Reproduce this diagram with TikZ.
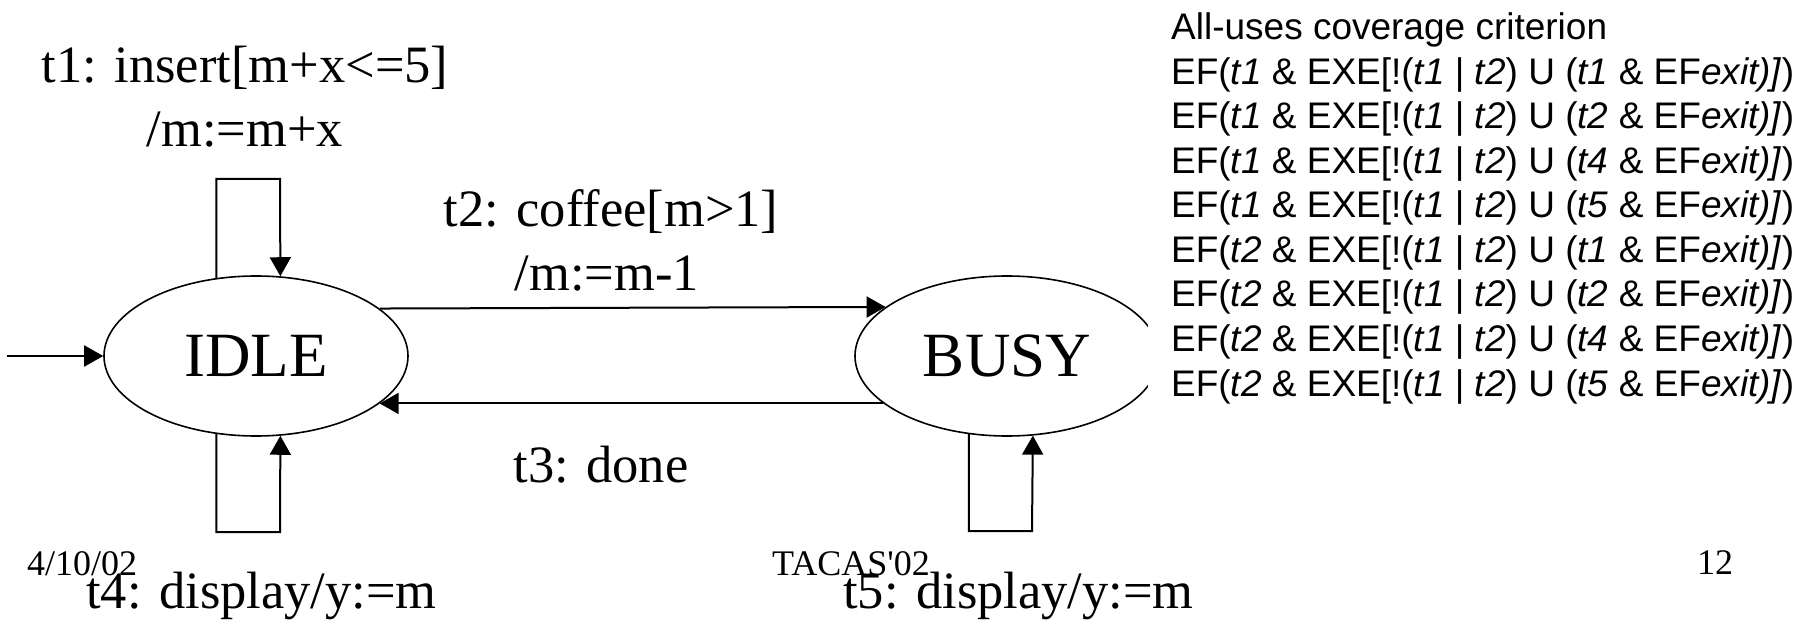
\documentclass[tikz,border=0pt]{standalone}
\usepackage{fontspec}
\setmainfont{Liberation Serif}[Ligatures={CommonOff}]
\newfontfamily\arialf{Liberation Sans}
\usetikzlibrary{arrows.meta,shapes.geometric}
\begin{document}
\begin{tikzpicture}[x=1pt,y=-1pt,
  state/.style={ellipse, draw, line width=1.6pt, minimum width=304pt, minimum height=160pt, inner sep=0pt, font=\fontsize{63}{63}\selectfont},
  edge/.style={line width=2pt, -{Triangle[length=19pt,width=21pt]}},
  lbl/.style={anchor=base, inner sep=0pt, font=\fontsize{52.5}{60}\selectfont},
  foot/.style={anchor=base west, inner sep=0pt, font=\fontsize{36}{40}\selectfont},
  crit/.style={anchor=base west, inner sep=0pt, font=\arialf\fontsize{37}{44}\selectfont}]
\useasboundingbox (0,0) rectangle (1802,620);

% states
\node[state] (IDLE) at (256,356) {IDLE};
\node[state] (BUSY) at (1007,356) {BUSY};

% loop corner coordinates
\coordinate (init) at (7,356);
\coordinate (l1b) at (280,179);
\coordinate (l4b) at (280,532);
\coordinate (l5b) at (1032,531);

% connectors
\draw[edge] (init) -- (IDLE.west);
\draw[edge] (IDLE.21.6) -- (BUSY.158.4);
\draw[edge] (BUSY.201.4) -- (IDLE.-21.4);
\draw[edge] (IDLE.117.4) |- (l1b) -- (IDLE.73.1);
\draw[edge] (IDLE.-117.4) |- (l4b) -- (IDLE.-73.1);
\draw[edge] (BUSY.-116.8) |- (l5b) -- (BUSY.-72.4);

% white text box covering part of BUSY
\fill[white] (1148,0) rectangle (1802,420);

% transition labels
\node[lbl] (t1a) at (245,83) {t1: insert[m+x<=5]};
\node[lbl] (t1b) at (245,147) {/m:=m+x};
\node[lbl] (t2a) at (611,227) {t2: coffee[m>1]};
\node[lbl] (t2b) at (607,291) {/m:=m-1};
\node[lbl] (t3) at (601,482) {t3: done};

% footer
\node[foot] (date) at (27,575) {4/10/02};
\node[foot] (conf) at (772,575) {TACAS\textquotesingle 02};
\node[foot] (page) at (1697,574) {12};

\node[lbl] (t4) at (261.5,608) {t4: display/y:=m};
\node[lbl] (t5) at (1018.5,608) {t5: display/y:=m};

% criterion text
\node[crit] (c0) at (1171,40) {All-uses coverage criterion};
\node[crit] (c1) at (1171,84.5) {EF(\textit{t1} \& EXE[!(\textit{t1} | \textit{t2}) U (\textit{t1} \& EF\textit{exit)]})};
\node[crit] (c2) at (1171,129) {EF(\textit{t1} \& EXE[!(\textit{t1} | \textit{t2}) U (\textit{t2} \& EF\textit{exit)]})};
\node[crit] (c3) at (1171,173.5) {EF(\textit{t1} \& EXE[!(\textit{t1} | \textit{t2}) U (\textit{t4} \& EF\textit{exit)]})};
\node[crit] (c4) at (1171,218) {EF(\textit{t1} \& EXE[!(\textit{t1} | \textit{t2}) U (\textit{t5} \& EF\textit{exit)]})};
\node[crit] (c5) at (1171,262.5) {EF(\textit{t2} \& EXE[!(\textit{t1} | \textit{t2}) U (\textit{t1} \& EF\textit{exit)]})};
\node[crit] (c6) at (1171,307) {EF(\textit{t2} \& EXE[!(\textit{t1} | \textit{t2}) U (\textit{t2} \& EF\textit{exit)]})};
\node[crit] (c7) at (1171,351.5) {EF(\textit{t2} \& EXE[!(\textit{t1} | \textit{t2}) U (\textit{t4} \& EF\textit{exit)]})};
\node[crit] (c8) at (1171,396) {EF(\textit{t2} \& EXE[!(\textit{t1} | \textit{t2}) U (\textit{t5} \& EF\textit{exit)]})};
\end{tikzpicture}
\end{document}
